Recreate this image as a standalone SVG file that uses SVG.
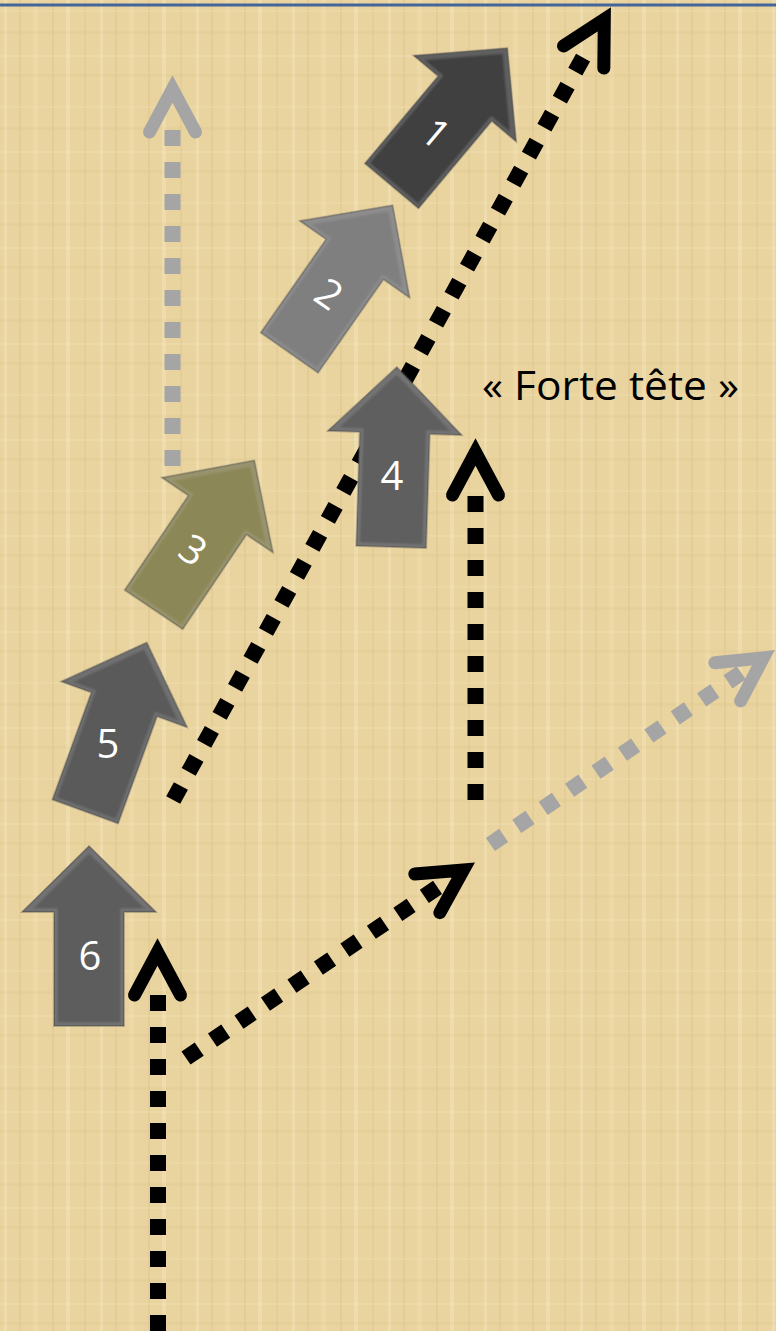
<svg xmlns="http://www.w3.org/2000/svg" width="776" height="1331" viewBox="0 0 776 1331">
<defs>
<style>
.dotK{fill:none;stroke:#000;stroke-width:16;stroke-dasharray:16 16;stroke-linecap:butt}
.dotG{fill:none;stroke:#a5a5a5;stroke-width:16;stroke-dasharray:16 16;stroke-linecap:butt}
.hK{stroke:#000}
.hG{stroke:#a5a5a5}
.blk{stroke:rgba(30,30,30,0.45);stroke-width:1.5;stroke-linejoin:miter;filter:url(#bevel)}
.num{font-family:"Open Sans","Liberation Sans",sans-serif;font-size:40px;fill:#fff;text-anchor:middle}
.lbl{font-family:"Open Sans","Liberation Sans",sans-serif;font-size:41px;fill:#000}
</style>
<pattern id="pap" width="96" height="96" patternUnits="userSpaceOnUse">
<rect width="96" height="96" fill="#e9d39e"/>
<rect x="4" y="0" width="3" height="96" fill="#f4e6bf" opacity="0.45"/>
<rect x="19" y="0" width="2" height="96" fill="#d4b883" opacity="0.25"/>
<rect x="33" y="0" width="5" height="96" fill="#f2e2b6" opacity="0.35"/>
<rect x="52" y="0" width="2" height="96" fill="#cfb27c" opacity="0.22"/>
<rect x="66" y="0" width="4" height="96" fill="#f5e8c4" opacity="0.4"/>
<rect x="84" y="0" width="2" height="96" fill="#d2b680" opacity="0.22"/>
<rect x="0" y="10" width="96" height="2" fill="#f3e4bc" opacity="0.3"/>
<rect x="0" y="31" width="96" height="3" fill="#d8bd88" opacity="0.15"/>
<rect x="0" y="55" width="96" height="2" fill="#f4e6c0" opacity="0.3"/>
<rect x="0" y="74" width="96" height="3" fill="#d6ba85" opacity="0.15"/>
</pattern>
<filter id="bevel" x="-10%" y="-10%" width="120%" height="120%">
<feMorphology in="SourceAlpha" operator="erode" radius="4" result="er"/>
<feComposite in="SourceAlpha" in2="er" operator="out" result="rim"/>
<feGaussianBlur in="rim" stdDeviation="1.2" result="rimb"/>
<feFlood flood-color="#ffffff" flood-opacity="0.07"/>
<feComposite in2="rimb" operator="in" result="rimc"/>
<feMerge><feMergeNode in="SourceGraphic"/><feMergeNode in="rimc"/></feMerge>
</filter>
<path id="blockArrow" d="M0,-90 L67,-24 L35,-24 L35,90 L-35,90 L-35,-24 L-67,-24 Z"/>
<path id="chev" d="M-23,43 L0,0 L23,43" fill="none" stroke-width="13" stroke-linecap="round" stroke-linejoin="miter" stroke-miterlimit="10"/>
</defs>

<rect width="776" height="1331" fill="url(#pap)"/>
<line x1="0" y1="5" x2="776" y2="5" stroke="#44659a" stroke-width="3"/>

<g id="connectors">
<path class="dotG" d="M172.5,466 L172.5,120"/>
<use href="#chev" class="hG" transform="translate(172.5,89)"/>
<path class="dotK" d="M158,1331 L158,985"/>
<use href="#chev" class="hK" transform="translate(157.5,952)"/>
<path class="dotK" d="M186,1058 L439.1,886.3"/>
<use href="#chev" class="hK" transform="translate(463.4,869.9) rotate(57)"/>
<path class="dotG" d="M490.4,844.5 L742.9,671.6"/>
<use href="#chev" class="hG" transform="translate(763.4,657.8) rotate(56)"/>
<path class="dotK" d="M475.5,800 L475.5,490"/>
<use href="#chev" class="hK" transform="translate(475.5,452)"/>
<path class="dotK" d="M173.2,800 L584,55.9"/>
<use href="#chev" class="hK" transform="translate(604.3,19.3) rotate(28.7)"/>
</g>

<g id="node1">
<use href="#blockArrow" class="blk" fill="#404040" transform="translate(449.5,117) rotate(40)"/>
<text class="num" transform="translate(435.7,133.3) rotate(40)" x="0" y="14">1</text>
</g>
<g id="node2">
<use href="#blockArrow" class="blk" fill="#7f7f7f" transform="translate(341,279) rotate(35)"/>
<text class="num" transform="translate(329,294) rotate(35)" x="0" y="14">2</text>
</g>
<g id="node3">
<use href="#blockArrow" class="blk" fill="#8c8756" transform="translate(204,535) rotate(34)"/>
<text class="num" transform="translate(193,550) rotate(34)" x="0" y="14">3</text>
</g>
<g id="node4">
<use href="#blockArrow" class="blk" fill="#5f5f5f" transform="translate(394,457) rotate(1.8)"/>
<text class="num" x="392" y="490">4</text>
</g>
<g id="node5">
<use href="#blockArrow" class="blk" fill="#5a5a5a" transform="translate(116,727) rotate(20)"/>
<text class="num" x="108" y="758">5</text>
</g>
<g id="node6">
<use href="#blockArrow" class="blk" fill="#5d5d5d" transform="translate(89,936)"/>
<text class="num" x="90" y="970">6</text>
</g>

<g id="label">
<text class="lbl" x="482" y="400" textLength="257" lengthAdjust="spacingAndGlyphs">« Forte tête »</text>
</g>
</svg>
